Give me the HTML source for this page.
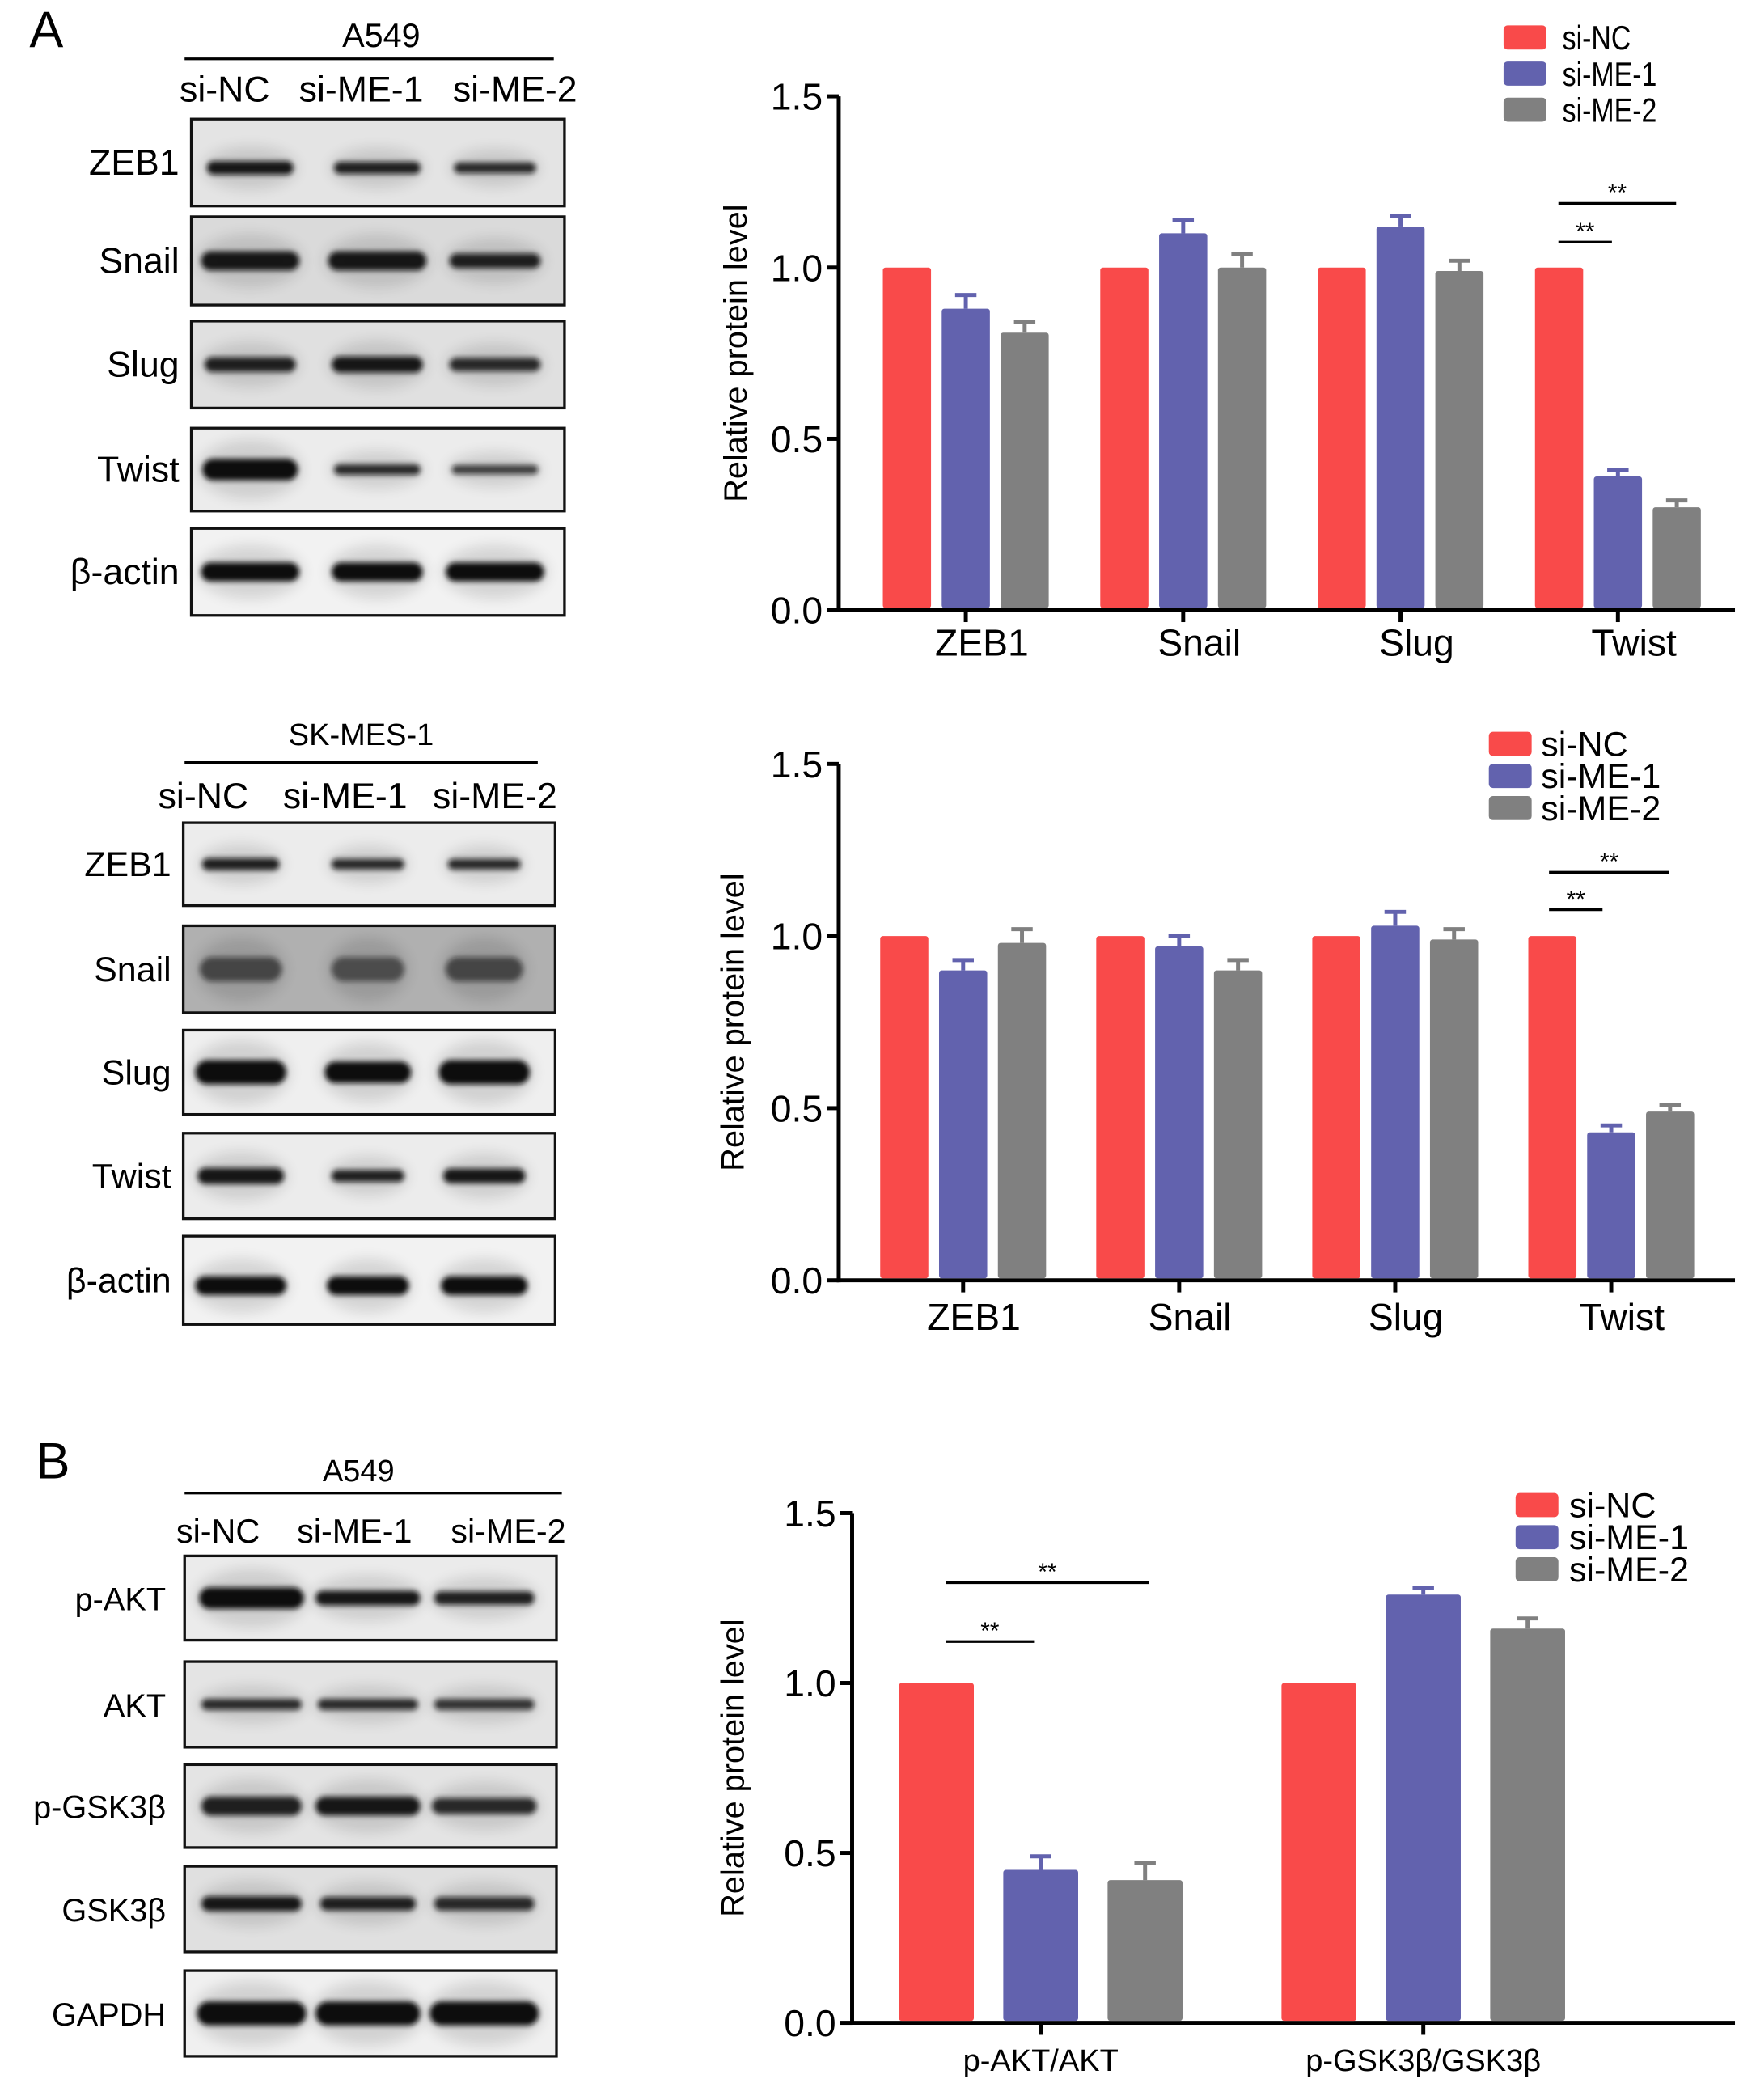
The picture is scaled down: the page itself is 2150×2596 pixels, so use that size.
<!DOCTYPE html>
<html><head><meta charset="utf-8">
<style>
html,body{margin:0;padding:0;background:#fff;}
svg{display:block;font-family:"Liberation Sans",sans-serif;}
</style></head>
<body>
<svg id="fig" width="2150" height="2596" viewBox="0 0 1300 1569.7" xmlns="http://www.w3.org/2000/svg">
<defs>
<filter id="blur" x="-30%" y="-100%" width="160%" height="300%"><feGaussianBlur stdDeviation="2"/></filter>
<filter id="blur2" x="-30%" y="-100%" width="160%" height="300%"><feGaussianBlur stdDeviation="5"/></filter>
</defs>
<g id="blots"></g>
<g id="charts"></g>
</svg>
<script>
// ---------- chart data ----------
const cats1 = ["ZEB1","Snail","Slug","Twist"];
const nc1 = [1,1,1,1];
const me1_1 = [0.88,1.10,1.12,0.39];
const me2_1 = [0.81,1.00,0.99,0.30];
const err_me1_1 = [0.04,0.04,0.03,0.02];
const err_me2_1 = [0.03,0.04,0.03,0.02];

const cats2 = ["ZEB1","Snail","Slug","Twist"];
const nc2 = [1,1,1,1];
const me1_2 = [0.90,0.97,1.03,0.43];
const me2_2 = [0.98,0.90,0.99,0.49];
const err_me1_2 = [0.03,0.03,0.04,0.02];
const err_me2_2 = [0.04,0.03,0.03,0.02];

const cats3 = ["p-AKT/AKT","p-GSK3β/GSK3β"];
const nc3 = [1,1];
const me1_3 = [0.45,1.26];
const me2_3 = [0.42,1.16];
const err_me1_3 = [0.04,0.02];
const err_me2_3 = [0.05,0.03];

const yTicks = [0.0,0.5,1.0,1.5];
const yTickLabels = ["0.0","0.5","1.0","1.5"];
const seriesNames = ["si-NC","si-ME-1","si-ME-2"];
const colors = ["#f94a4a","#6262ae","#808080"];

const NS="http://www.w3.org/2000/svg";
function mk(parent,tag,attrs,text){
  const e=document.createElementNS(NS,tag);
  for(const k in attrs) e.setAttribute(k,attrs[k]);
  if(text!==undefined) e.textContent=text;
  parent.appendChild(e); return e;
}

function drawChart(cfg){
  const root=document.getElementById('charts');
  const g=mk(root,'g',{});
  
  
  const y=v=>cfg.y0-(cfg.y0-cfg.y15)*(v/1.5);
  const xc=i=>cfg.firstCenter+i*cfg.pitch;
  const ya=mk(g,'line',{x1:cfg.ax,y1:cfg.y15,x2:cfg.ax,y2:cfg.y0+1.5,stroke:'#000','stroke-width':3});
  
  
  const xa=mk(g,'line',{x1:cfg.ax-1.5,y1:cfg.y0,x2:cfg.xend,y2:cfg.y0,stroke:'#000','stroke-width':3});
  
  
  yTicks.forEach((t,i)=>{
    mk(g,'line',{x1:cfg.ax-9,y1:y(t),x2:cfg.ax,y2:y(t),stroke:'#000','stroke-width':3});
    const tl=mk(g,'text',{x:cfg.ax-12,y:y(t)+10,'text-anchor':'end','font-size':28},yTickLabels[i]);
    
    
  });
  const yl=mk(g,'text',{x:0,y:0,transform:`translate(${cfg.ylx},${(cfg.y15+cfg.y0)/2}) rotate(-90)`,'text-anchor':'middle','font-size':24},'Relative protein level');
  
  
  const series=[[cfg.nc,null],[cfg.m1,cfg.e1],[cfg.m2,cfg.e2]];
  cfg.cats.forEach((c,i)=>{
    const cx=xc(i);
    mk(g,'line',{x1:cx,y1:cfg.y0,x2:cx,y2:cfg.y0+9,stroke:'#000','stroke-width':3});
    const cl=mk(g,'text',{x:cx+cfg.labOff,y:cfg.y0+cfg.labDy,'text-anchor':'middle','font-size':cfg.labSize},c);
    
    
    series.forEach((s,j)=>{
      const bx=cx+(j-1)*cfg.step-cfg.bw/2;
      const v=s[0][i];
      if(s[1]){
        const ev=v+s[1][i];
        mk(g,'line',{x1:bx+cfg.bw/2,y1:y(v),x2:bx+cfg.bw/2,y2:y(ev),stroke:colors[j],'stroke-width':3});
        mk(g,'line',{x1:bx+cfg.bw/2-8,y1:y(ev),x2:bx+cfg.bw/2+8,y2:y(ev),stroke:colors[j],'stroke-width':3});
      }
      const r=mk(g,'rect',{x:bx,y:y(v),width:cfg.bw,height:cfg.y0-y(v)-1.5,fill:colors[j],rx:2});
      
      
    });
  });
  cfg.sig.forEach(s=>{
    mk(g,'line',{x1:s[0],y1:s[2],x2:s[1],y2:s[2],stroke:'#000','stroke-width':2});
    const st=mk(g,'text',{x:(s[0]+s[1])/2,y:s[2]-2,'text-anchor':'middle','font-size':18},'**');
    
    
  });
  seriesNames.forEach((n,j)=>{
    const ly=cfg.legY+j*cfg.legDy;
    const lr=mk(g,'rect',{x:cfg.legX,y:ly-9,width:32,height:18,fill:colors[j],rx:3});
    
    
    const lt=mk(g,'text',{x:cfg.legX+cfg.legTx,y:ly+9,'font-size':cfg.legSize,transform:cfg.legScale?`translate(${(cfg.legX+cfg.legTx)*(1-cfg.legScale)},0) scale(${cfg.legScale},1)`:''},n);
    
    
  });
}

drawChart({name:'chart-a549-emt',cats:cats1,nc:nc1,m1:me1_1,m2:me2_1,e1:err_me1_1,e2:err_me2_1,
  ax:627,y15:72,y0:456,xend:1297,firstCenter:722,pitch:162.5,step:44,bw:36,ylx:558,labOff:12,labDy:34,labSize:28,
  sig:[[1165,1205,181],[1165,1253,152]],legX:1124,legY:28,legDy:27,legTx:44,legSize:25,legScale:0.82});
drawChart({name:'chart-skmes1-emt',cats:cats2,nc:nc2,m1:me1_2,m2:me2_2,e1:err_me1_2,e2:err_me2_2,
  ax:627,y15:571,y0:957,xend:1297,firstCenter:720,pitch:161.5,step:44,bw:36,ylx:556,labOff:8,labDy:37,labSize:28,
  sig:[[1158,1198,680],[1158,1248,652]],legX:1113,legY:556,legDy:24,legTx:39,legSize:26});
drawChart({name:'chart-a549-signaling',cats:cats3,nc:nc3,m1:me1_3,m2:me2_3,e1:err_me1_3,e2:err_me2_3,
  ax:637,y15:1131,y0:1512,xend:1297,firstCenter:778,pitch:286,step:78,bw:56,ylx:556,labOff:0,labDy:36,labSize:23,
  sig:[[707,773,1227],[707,859,1183]],legX:1133,legY:1125,legDy:24,legTx:40,legSize:26});

// ---------- blots ----------
function drawBlot(cfg){
  const root=document.getElementById('blots');
  const g=mk(root,'g',{});
  
  
  const t=mk(g,'text',{x:cfg.titleX,y:cfg.titleY,'text-anchor':'middle','font-size':cfg.titleSize},cfg.title);
  
  
  mk(g,'line',{x1:cfg.lineX1,y1:cfg.lineY,x2:cfg.lineX2,y2:cfg.lineY,stroke:'#000','stroke-width':2});
  cfg.heads.forEach(h=>{
    const ht=mk(g,'text',{x:h[1],y:cfg.headY,'text-anchor':'middle','font-size':cfg.headSize},h[0]);
    
    
  });
  cfg.rows.forEach(r=>{
    const [label,y1,y2,bg,bands]=r;
    const rg=mk(g,'g',{});
    
    
    mk(rg,'rect',{x:cfg.bx1,y:y1,width:cfg.bx2-cfg.bx1,height:y2-y1,fill:bg});
    const cy=(y1+y2)/2+(r[5]||0);
    cfg.lanes.forEach((lx,i)=>{
      const b=bands[i];
      const w=b[0]*0.68;
      mk(rg,'ellipse',{cx:lx,cy:cy,rx:w/2+3,ry:b[1]+6,fill:'#000',opacity:0.12,filter:'url(#blur2)'});
      mk(rg,'rect',{x:lx-w/2,y:cy-b[1]/2,width:w,height:b[1],rx:b[1]/2,fill:'#111',opacity:b[2],filter:'url(#blur)'});
    });
    mk(rg,'rect',{x:cfg.bx1,y:y1,width:cfg.bx2-cfg.bx1,height:y2-y1,fill:'none',stroke:'#111','stroke-width':2});
    const lt=mk(g,'text',{x:cfg.labX,y:(y1+y2)/2+9,'text-anchor':'end','font-size':cfg.labSize},label);
    
    
  });
}
const s=(w,h,o)=>[w,h,o];
drawBlot({name:'blot-a549-emt',title:'A549',titleX:285,titleY:35,titleSize:25,lineX1:138,lineX2:414,lineY:44,
  heads:[['si-NC',168],['si-ME-1',270],['si-ME-2',385]],headY:76,headSize:27,bx1:143,bx2:422,labX:134,labSize:27,
  lanes:[187,282,370],
  rows:[['ZEB1',89,154,'#e4e4e4',[s(95,10,0.95),s(95,9,0.9),s(90,8,0.85)],4],
        ['Snail',162,228,'#dadada',[s(108,14,0.95),s(108,14,0.95),s(100,11,0.9)],0],
        ['Slug',240,305,'#e0e0e0',[s(100,11,0.9),s(100,12,0.95),s(100,10,0.85)],0],
        ['Twist',320,382,'#ececec',[s(105,16,1),s(95,8,0.85),s(95,7,0.75)],0],
        ['β-actin',395,460,'#f2f2f2',[s(108,14,1),s(100,14,1),s(108,14,1)],0]]});
drawBlot({name:'blot-skmes1-emt',title:'SK-MES-1',titleX:270,titleY:557,titleSize:23,lineX1:138,lineX2:402,lineY:570,
  heads:[['si-NC',152],['si-ME-1',258],['si-ME-2',370]],headY:604,headSize:27,bx1:137,bx2:415,labX:128,labSize:26,
  lanes:[180,275,362],
  rows:[['ZEB1',615,677,'#ececec',[s(85,9,0.9),s(80,8,0.85),s(80,8,0.85)],0],
        ['Snail',692,757,'#b0b0b0',[s(90,18,0.6),s(80,18,0.55),s(85,18,0.6)],0],
        ['Slug',770,833,'#efefef',[s(100,18,1),s(95,16,1),s(100,18,1)],0],
        ['Twist',847,911,'#ececec',[s(95,12,0.95),s(80,9,0.9),s(90,11,0.95)],0],
        ['β-actin',924,990,'#f2f2f2',[s(100,14,1),s(90,14,1),s(95,14,1)],4]]});
drawBlot({name:'blot-a549-signaling',title:'A549',titleX:268,titleY:1107,titleSize:23,lineX1:138,lineX2:420,lineY:1116,
  heads:[['si-NC',163],['si-ME-1',265],['si-ME-2',380]],headY:1153,headSize:25,bx1:138,bx2:416,labX:124,labSize:24,
  lanes:[188,275,362],
  rows:[['p-AKT',1163,1226,'#ebebeb',[s(115,16,1),s(115,11,0.95),s(110,10,0.9)],0],
        ['AKT',1242,1306,'#e4e4e4',[s(110,8,0.85),s(110,8,0.85),s(110,8,0.8)],0],
        ['p-GSK3β',1319,1381,'#e4e4e4',[s(110,14,0.9),s(115,14,0.95),s(115,12,0.85)],0],
        ['GSK3β',1395,1459,'#e0e0e0',[s(110,11,0.95),s(105,10,0.9),s(110,10,0.85)],-4],
        ['GAPDH',1473,1537,'#f0f0f0',[s(120,18,1),s(115,18,1),s(120,18,1)],0]]});

const la=mk(document.getElementById('blots'),'text',{x:22,y:35,'font-size':38},'A');


const lb=mk(document.getElementById('blots'),'text',{x:27,y:1105,'font-size':38},'B');


</script>
</body></html>
